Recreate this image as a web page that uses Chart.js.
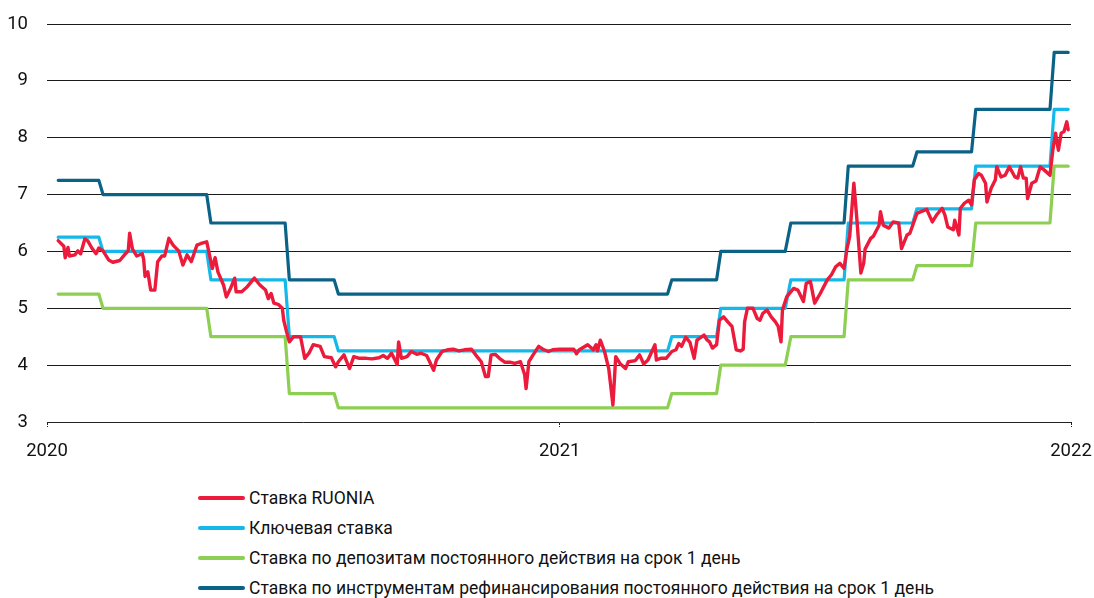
<!DOCTYPE html>
<html><head><meta charset="utf-8">
<script src="https://cdn.jsdelivr.net/npm/chart.js@4/dist/chart.umd.min.js"></script>
<style>
html,body{margin:0;padding:0;background:#fff;width:1094px;height:598px;overflow:hidden;font-family:Roboto,sans-serif}
#wrap{position:absolute;left:0;top:0;width:1094px;height:462px}
#legend{position:absolute;left:198px;top:483px;color:#111}
.item{position:absolute;left:0;height:30px;line-height:30px;white-space:nowrap;font-size:17.5px}
.sw{display:inline-block;width:47px;height:4px;border-radius:2px;vertical-align:middle;margin-right:4px;position:relative;top:-1px}
</style></head><body>
<div id="wrap"><canvas id="c"></canvas></div>
<div id="legend"></div>
<script>
// X axis ticks (days since 2020-01-01)
const xTickDays = [0, 366, 731];
const xTickLabels = ['2020', '2021', '2022'];

// Series labels
const seriesLabels = [
  'Ставка RUONIA',
  'Ключевая ставка',
  'Ставка по депозитам постоянного действия на срок 1 день',
  'Ставка по инструментам рефинансирования постоянного действия на срок 1 день'
];

// Policy-rate step points (days since 2020-01-01)
const stepDays = [8,37,40,114,117,170,173,205,208,443,446,478,481,527,531,569,572,618,621,660,663,716,719,729];
const keyRate = [6.25,6.25,6,6,5.5,5.5,4.5,4.5,4.25,4.25,4.5,4.5,5,5,5.5,5.5,6.5,6.5,6.75,6.75,7.5,7.5,8.5,8.5];
const depositRate = [5.25,5.25,5,5,4.5,4.5,3.5,3.5,3.25,3.25,3.5,3.5,4,4,4.5,4.5,5.5,5.5,5.75,5.75,6.5,6.5,7.5,7.5];
const refiRate = [7.25,7.25,7,7,6.5,6.5,5.5,5.5,5.25,5.25,5.5,5.5,6,6,6.5,6.5,7.5,7.5,7.75,7.75,8.5,8.5,9.5,9.5];

// RUONIA (days since 2020-01-01, %)
const ruoniaDays = [8,12,13,15,16,20,22,24,27,29,32,35,37,40,44,47,52,56,58,59,61,64,68,69,70,72,74,77,79,82,84,87,90,94,97,100,103,107,110,114,116,118,120,122,126,128,131,134,135,139,143,148,152,156,158,160,162,165,168,169,171,173,176,181,184,187,190,195,198,203,206,208,212,216,219,223,228,232,237,240,243,246,250,251,253,257,260,264,267,271,273,276,278,282,286,290,294,298,303,307,310,313,315,317,320,323,327,331,334,338,341,342,344,347,351,354,358,361,366,371,376,378,380,386,390,392,393,395,398,401,404,406,409,413,415,420,423,426,429,434,435,438,442,446,449,451,453,456,459,462,464,469,471,473,475,478,480,483,486,489,492,495,497,498,500,504,507,509,511,514,517,520,522,524,525,528,533,536,540,542,545,548,552,557,560,563,566,569,571,573,576,578,581,583,584,588,590,594,595,597,601,604,608,610,614,616,621,624,628,632,635,639,641,643,647,648,651,652,655,658,660,662,665,667,670,671,674,677,678,681,684,687,691,693,695,697,699,700,703,706,709,712,716,718,720,722,724,726,728,729];
const ruoniaValues = [6.19,6.09,5.89,6.07,5.92,5.94,6.01,5.96,6.22,6.19,6.06,5.96,6.06,6.01,5.85,5.81,5.84,5.96,6.01,6.32,6.04,5.92,5.96,5.86,5.56,5.64,5.32,5.32,5.82,5.92,5.92,6.23,6.11,6.01,5.76,5.94,5.82,6.11,6.14,6.17,5.94,5.70,5.89,5.64,5.41,5.20,5.35,5.53,5.29,5.29,5.38,5.53,5.41,5.32,5.17,5.26,5.09,5.07,5.00,4.79,4.59,4.41,4.50,4.50,4.12,4.21,4.36,4.33,4.15,4.13,3.97,4.06,4.18,3.94,4.15,4.12,4.12,4.11,4.13,4.17,4.12,4.21,4.01,4.41,4.12,4.15,4.24,4.19,4.21,4.17,4.07,3.91,4.09,4.24,4.27,4.28,4.25,4.27,4.28,4.15,4.06,3.80,3.80,4.18,4.19,4.12,4.05,4.05,4.03,4.06,3.83,3.59,4.06,4.18,4.33,4.28,4.24,4.27,4.28,4.28,4.28,4.20,4.27,4.36,4.27,4.36,4.25,4.44,4.24,3.94,3.30,4.15,4.03,3.94,4.06,4.08,4.18,4.02,4.09,4.36,4.09,4.12,4.12,4.24,4.27,4.38,4.33,4.49,4.40,4.12,4.44,4.53,4.45,4.41,4.30,4.36,4.79,4.85,4.76,4.68,4.27,4.25,4.28,4.76,5.00,5.00,4.82,4.79,4.91,4.97,4.85,4.76,4.68,4.41,4.97,5.20,5.35,5.32,5.12,5.44,5.47,5.09,5.26,5.50,5.59,5.73,5.79,5.70,6.04,6.26,7.20,6.61,5.62,5.79,6.04,6.23,6.27,6.46,6.70,6.46,6.41,6.52,6.50,6.05,6.29,6.32,6.67,6.70,6.74,6.52,6.64,6.76,6.64,6.43,6.38,6.55,6.29,6.76,6.85,6.90,6.82,7.26,7.37,7.34,7.20,6.87,7.11,7.26,7.49,7.31,7.34,7.49,7.31,7.29,7.49,7.29,7.29,6.93,7.20,7.24,7.49,7.43,7.34,7.78,8.08,7.78,8.08,8.11,8.28,8.14];

const colors = ['#EC1A3B', '#14B9E9', '#8DCF52', '#0B6287'];

function pts(xs, ys) { return xs.map((x, i) => ({ x: x, y: ys[i] })); }

const seriesData = [pts(ruoniaDays, ruoniaValues), pts(stepDays, keyRate), pts(stepDays, depositRate), pts(stepDays, refiRate)];

const datasets = seriesData.map((d, i) => ({
  label: seriesLabels[i],
  data: d,
  borderColor: colors[i],
  backgroundColor: colors[i],
  borderWidth: i === 0 ? 3.4 : 3.2,
  pointRadius: 0,
  tension: 0,
  borderCapStyle: 'round',
  borderJoinStyle: 'round',
  fill: false
}));

new Chart(document.getElementById('c'), {
  type: 'line',
  data: { datasets: datasets },
  options: {
    responsive: true,
    maintainAspectRatio: false,
    animation: false,
    events: [],
    layout: { autoPadding: false, padding: { left: 0, right: 23, top: 24, bottom: 0 } },
    plugins: { legend: { display: false }, tooltip: { enabled: false } },
    scales: {
      x: {
        type: 'linear',
        min: 0, max: 731,
        afterBuildTicks: (s) => { s.ticks = xTickDays.map(v => ({ value: v })); },
        afterFit: (s) => { s.height = 40; s.paddingLeft = 0; s.paddingRight = 0; },
        ticks: {
          autoSkip: false, maxRotation: 0, padding: 13,
          color: '#111',
          font: { family: 'Roboto', size: 18.5 },
          callback: (v) => { const i = xTickDays.indexOf(v); return i >= 0 ? xTickLabels[i] : ''; }
        },
        grid: { drawOnChartArea: false, drawTicks: true, tickLength: 5, tickColor: '#222', tickWidth: 1, tickBorderDash: [2, 1] },
        border: { display: true, color: '#222', width: 1, dash: [3, 2] }
      },
      y: {
        min: 3, max: 10,
        afterFit: (s) => { s.width = 47; s.paddingTop = 0; s.paddingBottom = 0; },
        ticks: {
          stepSize: 1, padding: 19,
          color: '#111',
          font: { family: 'Roboto', size: 18.5 }
        },
        grid: {
          drawTicks: false,
          lineWidth: 1,
          color: (ctx) => (ctx.tick && ctx.tick.value === 3) ? 'rgba(0,0,0,0)' : '#1a1a1a'
        },
        border: { display: false }
      }
    }
  }
});

const lg = document.getElementById('legend');
seriesLabels.forEach((t, i) => {
  const d = document.createElement('div');
  d.className = 'item';
  d.style.top = (i * 30) + 'px';
  const sw = document.createElement('span');
  sw.className = 'sw';
  sw.style.background = colors[i];
  d.appendChild(sw);
  d.appendChild(document.createTextNode(t));
  lg.appendChild(d);
});
</script>
</body></html>
